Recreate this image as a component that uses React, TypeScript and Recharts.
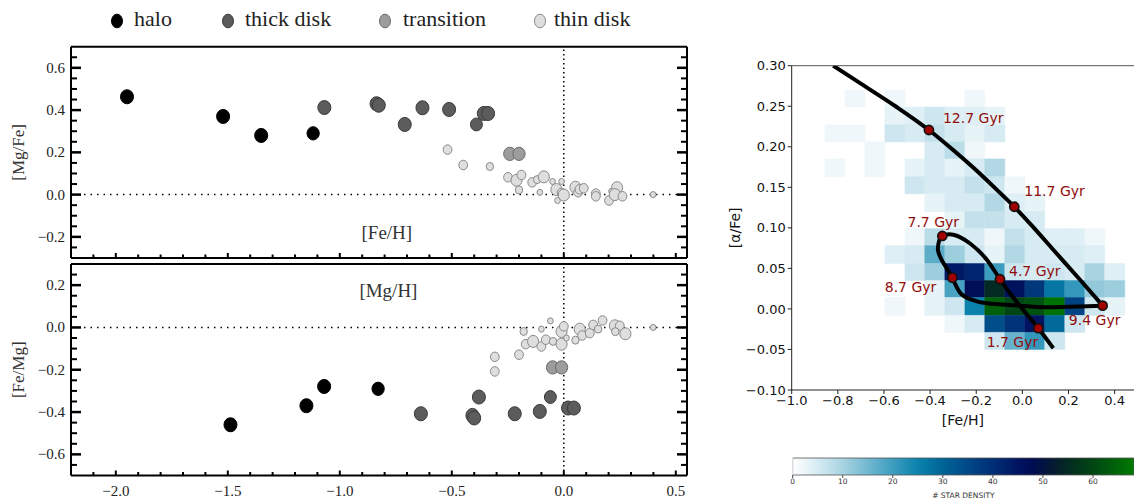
import React from "react"
import {
  ScatterChart,
  ComposedChart,
  BarChart,
  Bar,
  Scatter,
  Line,
  XAxis,
  YAxis,
  ZAxis,
  ReferenceLine,
  ReferenceArea,
  ReferenceDot,
} from "recharts"

type Star = { x: number; y: number; w: number }

// ---------- left: [Mg/Fe] vs [Fe/H] ----------
const haloFe: Star[] = [
  { x: -1.95, y: 0.463, w: 4 },
  { x: -1.521, y: 0.37, w: 4 },
  { x: -1.351, y: 0.28, w: 4 },
  { x: -1.119, y: 0.29, w: 3.6 },
]
const thickFe: Star[] = [
  { x: -1.069, y: 0.412, w: 4 },
  { x: -0.836, y: 0.43, w: 4 },
  { x: -0.826, y: 0.423, w: 4 },
  { x: -0.71, y: 0.332, w: 4 },
  { x: -0.631, y: 0.411, w: 4 },
  { x: -0.512, y: 0.403, w: 4 },
  { x: -0.39, y: 0.332, w: 3.4 },
  { x: -0.357, y: 0.384, w: 4 },
  { x: -0.338, y: 0.384, w: 4 },
]
const transFe: Star[] = [
  { x: -0.241, y: 0.193, w: 3.6 },
  { x: -0.2, y: 0.193, w: 3.6 },
]
const thinFe: Star[] = [
  { x: -0.519, y: 0.213, w: 2 },
  { x: -0.449, y: 0.14, w: 2 },
  { x: -0.33, y: 0.133, w: 1.5 },
  { x: -0.249, y: 0.082, w: 2 },
  { x: -0.211, y: 0.068, w: 3 },
  { x: -0.189, y: 0.093, w: 2 },
  { x: -0.2, y: 0.022, w: 1.5 },
  { x: -0.141, y: 0.058, w: 2 },
  { x: -0.119, y: 0.071, w: 1.5 },
  { x: -0.089, y: 0.084, w: 3 },
  { x: -0.107, y: 0.011, w: 1 },
  { x: -0.05, y: 0.062, w: 1 },
  { x: -0.01, y: 0.062, w: 1 },
  { x: -0.033, y: 0.024, w: 3 },
  { x: -0.028, y: -0.028, w: 1 },
  { x: -0.01, y: 0.008, w: 2 },
  { x: 0.0, y: -0.002, w: 3 },
  { x: 0.052, y: 0.035, w: 3 },
  { x: 0.064, y: 0.011, w: 2 },
  { x: 0.07, y: 0.025, w: 2 },
  { x: 0.089, y: 0.03, w: 2 },
  { x: 0.143, y: 0.005, w: 2 },
  { x: 0.143, y: -0.008, w: 2 },
  { x: 0.202, y: -0.028, w: 2 },
  { x: 0.213, y: 0.016, w: 1 },
  { x: 0.238, y: 0.033, w: 3 },
  { x: 0.228, y: 0.0, w: 3 },
  { x: 0.262, y: -0.008, w: 2 },
  { x: 0.399, y: 0.0, w: 1 },
]

// ---------- left: [Fe/Mg] vs [Mg/H] ----------
const haloMg: Star[] = [
  { x: -1.488, y: -0.46, w: 4 },
  { x: -1.149, y: -0.37, w: 4 },
  { x: -1.07, y: -0.279, w: 4 },
  { x: -0.829, y: -0.29, w: 3.6 },
]
const thickMg: Star[] = [
  { x: -0.638, y: -0.408, w: 4 },
  { x: -0.408, y: -0.416, w: 4 },
  { x: -0.4, y: -0.428, w: 4 },
  { x: -0.379, y: -0.329, w: 4 },
  { x: -0.219, y: -0.408, w: 4 },
  { x: -0.107, y: -0.397, w: 4 },
  { x: -0.06, y: -0.329, w: 3.4 },
  { x: 0.019, y: -0.381, w: 4 },
  { x: 0.045, y: -0.381, w: 4 },
]
const transMg: Star[] = [
  { x: -0.05, y: -0.189, w: 3.6 },
  { x: -0.01, y: -0.189, w: 3.6 },
]
const thinMg: Star[] = [
  { x: -0.308, y: -0.139, w: 2 },
  { x: -0.308, y: -0.208, w: 2 },
  { x: -0.2, y: -0.129, w: 2 },
  { x: -0.179, y: -0.019, w: 1.5 },
  { x: -0.17, y: -0.079, w: 2 },
  { x: -0.137, y: -0.066, w: 3 },
  { x: -0.1, y: -0.008, w: 1 },
  { x: -0.1, y: -0.09, w: 2 },
  { x: -0.08, y: -0.058, w: 2 },
  { x: -0.06, y: 0.031, w: 1 },
  { x: -0.048, y: -0.066, w: 1.5 },
  { x: -0.01, y: -0.079, w: 3 },
  { x: -0.01, y: -0.019, w: 3 },
  { x: 0.0, y: 0.005, w: 2 },
  { x: 0.012, y: -0.05, w: 1 },
  { x: 0.052, y: -0.06, w: 1.5 },
  { x: 0.071, y: -0.008, w: 3 },
  { x: 0.082, y: -0.038, w: 2 },
  { x: 0.116, y: -0.027, w: 2 },
  { x: 0.131, y: 0.012, w: 2 },
  { x: 0.153, y: -0.008, w: 1.5 },
  { x: 0.173, y: 0.033, w: 2 },
  { x: 0.228, y: 0.008, w: 3 },
  { x: 0.25, y: 0.008, w: 2 },
  { x: 0.23, y: -0.02, w: 1.5 },
  { x: 0.275, y: -0.03, w: 3 },
  { x: 0.399, y: 0.0, w: 1 },
]

const X_TICKS = [
  -2.1, -2.0, -1.9, -1.8, -1.7, -1.6, -1.5, -1.4, -1.3, -1.2, -1.1, -1.0, -0.9, -0.8,
  -0.7, -0.6, -0.5, -0.4, -0.3, -0.2, -0.1, 0.0, 0.1, 0.2, 0.3, 0.4, 0.5,
]
const X_LABELS = [-2.0, -1.5, -1.0, -0.5, 0.0, 0.5]
const Y_TICKS_TOP = [
  -0.25, -0.2, -0.15, -0.1, -0.05, 0.0, 0.05, 0.1, 0.15, 0.2, 0.25, 0.3, 0.35, 0.4,
  0.45, 0.5, 0.55, 0.6, 0.65,
]
const Y_LABELS_TOP = [-0.2, 0.0, 0.2, 0.4, 0.6]
const Y_TICKS_BOT = [
  -0.65, -0.6, -0.55, -0.5, -0.45, -0.4, -0.35, -0.3, -0.25, -0.2, -0.15, -0.1, -0.05,
  0.0, 0.05, 0.1, 0.15, 0.2, 0.25,
]
const Y_LABELS_BOT = [-0.6, -0.4, -0.2, 0.0, 0.2]

// ---------- right: [alpha/Fe] vs [Fe/H] density + track ----------
const HEAT_X = [
  -0.856, -0.769, -0.683, -0.596, -0.509, -0.423, -0.336, -0.249, -0.163, -0.076, 0.011,
  0.097, 0.184, 0.271, 0.357, 0.444,
]
const HEAT_Y = [
  0.27, 0.249, 0.227, 0.206, 0.185, 0.163, 0.142, 0.12, 0.099, 0.078, 0.056, 0.035, 0.014,
  -0.008, -0.029, -0.05,
]
const HEAT_COUNTS = [
  [0, 2, 0, 2, 0, 0, 0, 2, 0, 0, 0, 0, 0, 0, 0],
  [0, 0, 0, 3, 4, 6, 4, 4, 3, 0, 0, 0, 0, 0, 0],
  [2, 2, 0, 6, 5, 7, 5, 3, 5, 0, 0, 0, 0, 0, 0],
  [0, 0, 2, 0, 0, 5, 8, 2, 0, 0, 0, 0, 0, 0, 0],
  [2, 0, 2, 0, 3, 5, 3, 5, 9, 0, 0, 0, 0, 0, 0],
  [0, 0, 0, 0, 6, 5, 5, 7, 6, 2, 0, 0, 0, 0, 0],
  [0, 0, 0, 0, 0, 3, 5, 5, 9, 4, 3, 0, 0, 0, 0],
  [0, 0, 0, 0, 0, 0, 3, 7, 7, 5, 5, 0, 0, 0, 0],
  [0, 0, 0, 0, 2, 8, 5, 5, 2, 7, 5, 4, 4, 2, 0],
  [0, 0, 0, 4, 5, 17, 11, 6, 3, 9, 5, 5, 5, 4, 0],
  [0, 0, 0, 0, 6, 11, 44, 42, 20, 6, 5, 6, 5, 10, 4],
  [0, 0, 0, 0, 0, 3, 19, 47, 55, 46, 38, 27, 21, 12, 11],
  [0, 0, 0, 2, 0, 3, 6, 25, 64, 60, 62, 67, 36, 6, 3],
  [0, 0, 0, 0, 0, 0, 2, 5, 34, 39, 45, 29, 6, 0, 0],
  [0, 0, 0, 0, 0, 0, 0, 0, 6, 16, 21, 6, 0, 0, 0],
]

const TRACK_EARLY = [
  { x: -0.82, y: 0.3 },
  { x: -0.69, y: 0.276 },
  { x: -0.55, y: 0.25 },
  { x: -0.405, y: 0.2207 },
  { x: -0.3, y: 0.196 },
  { x: -0.2, y: 0.171 },
  { x: -0.1, y: 0.144 },
  { x: -0.035, y: 0.126 },
  { x: 0.05, y: 0.1 },
  { x: 0.134, y: 0.073 },
  { x: 0.25, y: 0.036 },
  { x: 0.348, y: 0.004 },
]
const TRACK_LATE = [
  { x: 0.348, y: 0.004 },
  { x: 0.25, y: 0.003 },
  { x: 0.1, y: 0.002 },
  { x: -0.01, y: 0.004 },
  { x: -0.155, y: 0.007 },
  { x: -0.227, y: 0.012 },
  { x: -0.27, y: 0.02 },
  { x: -0.305, y: 0.0386 },
  { x: -0.345, y: 0.058 },
  { x: -0.366, y: 0.073 },
  { x: -0.36, y: 0.085 },
  { x: -0.347, y: 0.09 },
  { x: -0.3, y: 0.0915 },
  { x: -0.228, y: 0.081 },
  { x: -0.155, y: 0.061 },
  { x: -0.097, y: 0.0366 },
  { x: -0.02, y: 0.007 },
  { x: 0.069, y: -0.0238 },
  { x: 0.134, y: -0.0485 },
]
const AGES = [
  { label: "12.7 Gyr", x: -0.405, y: 0.2207 },
  { label: "11.7 Gyr", x: -0.035, y: 0.126 },
  { label: "9.4 Gyr", x: 0.348, y: 0.004 },
  { label: "8.7 Gyr", x: -0.3035, y: 0.0386 },
  { label: "7.7 Gyr", x: -0.347, y: 0.09 },
  { label: "4.7 Gyr", x: -0.097, y: 0.0366 },
  { label: "1.7 Gyr", x: 0.069, y: -0.0238 },
]
const FEH_TICKS = [-1.0, -0.8, -0.6, -0.4, -0.2, 0.0, 0.2, 0.4]
const ALPHA_TICKS = [-0.1, -0.05, 0.0, 0.05, 0.1, 0.15, 0.2, 0.25, 0.3]

// colour bar
const CBAR_MAX = 68.2
const CBAR_RANGE = [{ name: "density", top: CBAR_MAX }]
const CBAR_TICKS = [0, 10, 20, 30, 40, 50, 60]
const CMAP: [number, string][] = [
  [0, "#ffffff"],
  [5, "#d6ebf2"],
  [10, "#a8d3e1"],
  [15, "#72b8d0"],
  [20, "#3d9dbf"],
  [25, "#0a82ac"],
  [30, "#006497"],
  [35, "#004886"],
  [40, "#002e74"],
  [45, "#001462"],
  [48, "#000c52"],
  [52, "#061a32"],
  [56, "#03301e"],
  [61, "#004c12"],
  [68.2, "#007a00"],
]

// label offsets around the age markers (px)
const AGE_LABEL_POS: Record<string, [number, number, "start" | "middle" | "end"]> = {
  "12.7 Gyr": [14, -12, "start"],
  "11.7 Gyr": [10, -16, "start"],
  "7.7 Gyr": [-9, -14, "middle"],
  "8.7 Gyr": [-16, 9, "end"],
  "4.7 Gyr": [9, -8, "start"],
  "9.4 Gyr": [-8, 14, "middle"],
  "1.7 Gyr": [0, 14, "end"],
}

const POP = {
  halo: { name: "halo", fill: "#000000", stroke: "#000000" },
  thick: { name: "thick disk", fill: "#5c5c5c", stroke: "#3a3a3a" },
  trans: { name: "transition", fill: "#9c9c9c", stroke: "#6a6a6a" },
  thin: { name: "thin disk", fill: "#dedede", stroke: "#8a8a8a" },
}

const serif = "'Liberation Serif', 'DejaVu Serif', serif"
const sans = "'DejaVu Sans', sans-serif"

const fmt1 = (v: number) => (v < -1e-9 ? "\u2212" : "") + Math.abs(v).toFixed(1)
const fmt2 = (v: number) => (v < -1e-9 ? "\u2212" : "") + Math.abs(v).toFixed(2)
const onList = (v: number, list: number[]) => list.some((t) => Math.abs(t - v) < 1e-6)

const hexRgb = (h: string) => [1, 3, 5].map((i) => parseInt(h.slice(i, i + 2), 16))
const densityColor = (v: number) => {
  for (let i = 1; i < CMAP.length; i++) {
    const [v0, c0] = CMAP[i - 1]
    const [v1, c1] = CMAP[i]
    if (v <= v1) {
      const t = (v - v0) / (v1 - v0)
      const a = hexRgb(c0)
      const b = hexRgb(c1)
      return `rgb(${a.map((x, k) => Math.round(x + (b[k] - x) * t)).join(",")})`
    }
  }
  return CMAP[CMAP.length - 1][1]
}

const starShape = (fill: string, stroke: string) => (p: any) => {
  const r = p.width ? p.width / 2 : Math.sqrt((p.size ?? 64) / Math.PI)
  return (
    <ellipse cx={p.cx} cy={p.cy} rx={r} ry={r * 1.08} fill={fill} stroke={stroke} strokeWidth={1} />
  )
}

const xTick = (side: "top" | "bottom", withLabels: boolean) => (p: any) => {
  const v = p.payload.value
  const major = onList(v, X_LABELS)
  const dir = side === "bottom" ? -1 : 1
  return (
    <g>
      <line x1={p.x} y1={p.y} x2={p.x} y2={p.y + dir * (major ? 5 : 3.5)} stroke="#000" strokeWidth={2} />
      {withLabels && major && (
        <text x={p.x} y={p.y + 15} textAnchor="middle" dominantBaseline="central" fontFamily={serif} fontSize={15} fill="#222">
          {fmt1(v)}
        </text>
      )}
    </g>
  )
}

const yTick = (side: "left" | "right", labels: number[]) => (p: any) => {
  const v = p.payload.value
  const major = onList(v, labels)
  const dir = side === "left" ? 1 : -1
  return (
    <g>
      <line x1={p.x} y1={p.y} x2={p.x + dir * (major ? 10 : 6)} y2={p.y} stroke="#000" strokeWidth={major ? 2.5 : 2} />
      {side === "left" && major && (
        <text x={p.x - 6} y={p.y} textAnchor="end" dominantBaseline="central" fontFamily={serif} fontSize={15} fill="#222">
          {fmt1(v)}
        </text>
      )}
    </g>
  )
}

type PanelProps = {
  top: number
  height: number
  margin: { top: number; right: number; bottom: number; left: number }
  yDomain: [number, number]
  yTicks: number[]
  yLabels: number[]
  showX: boolean
  yTitle: string
  inner: { text: string; x: number; y: number }
  halo: Star[]
  thick: Star[]
  trans: Star[]
  thin: Star[]
}

const frame = { stroke: "#000", strokeWidth: 2 }

function AbundancePanel(props: PanelProps) {
  const { top, height, margin, yDomain, yTicks, yLabels, showX, yTitle, inner } = props
  const sets: [Star[], { fill: string; stroke: string }][] = [
    [props.thin, POP.thin],
    [props.trans, POP.trans],
    [props.thick, POP.thick],
    [props.halo, POP.halo],
  ]
  return (
    <div style={{ position: "absolute", left: 0, top, width: 700, height }}>
      <ScatterChart width={700} height={height} margin={margin}>
        <XAxis
          xAxisId="b"
          type="number"
          dataKey="x"
          domain={[-2.2, 0.55]}
          allowDataOverflow
          ticks={X_TICKS}
          interval={0}
          tickSize={0}
          tickMargin={0}
          tickLine={false}
          axisLine={frame}
          height={showX ? 24 : 1}
          tick={xTick("bottom", showX)}
        />
        <XAxis
          xAxisId="t"
          orientation="top"
          type="number"
          domain={[-2.2, 0.55]}
          allowDataOverflow
          ticks={X_TICKS}
          interval={0}
          tickSize={0}
          tickMargin={0}
          tickLine={false}
          axisLine={frame}
          height={1}
          tick={xTick("top", false)}
        />
        <YAxis
          yAxisId="l"
          type="number"
          dataKey="y"
          domain={yDomain}
          allowDataOverflow
          ticks={yTicks}
          interval={0}
          tickSize={0}
          tickMargin={0}
          tickLine={false}
          axisLine={frame}
          width={71}
          tick={yTick("left", yLabels)}
          label={{
            value: yTitle,
            angle: -90,
            position: "insideLeft",
            offset: 18,
            style: { textAnchor: "middle", fontFamily: serif, fontSize: 17, fill: "#333" },
          }}
        />
        <YAxis
          yAxisId="r"
          orientation="right"
          type="number"
          domain={yDomain}
          allowDataOverflow
          ticks={yTicks}
          interval={0}
          tickSize={0}
          tickMargin={0}
          tickLine={false}
          axisLine={frame}
          width={1}
          tick={yTick("right", yLabels)}
        />
        <ZAxis dataKey="w" type="number" domain={[1, 4]} range={[25, 133]} />
        <ReferenceLine xAxisId="b" yAxisId="l" y={0} stroke="#000" strokeWidth={1.5} strokeDasharray="1.5 5" />
        <ReferenceLine xAxisId="b" yAxisId="l" x={0} stroke="#000" strokeWidth={1.5} strokeDasharray="1.5 3" />
        <ReferenceDot
          xAxisId="b"
          yAxisId="l"
          x={inner.x}
          y={inner.y}
          r={1}
          fill="none"
          stroke="none"
          label={{ value: inner.text, position: "center", fontFamily: serif, fontSize: 19, fill: "#333" }}
        />
        {sets.map(([data, st], i) => (
          <Scatter
            key={i}
            xAxisId="b"
            yAxisId="l"
            data={data}
            shape={starShape(st.fill, st.stroke)}
            isAnimationActive={false}
          />
        ))}
      </ScatterChart>
    </div>
  )
}

const ageShape = (p: any) => {
  const [dx, dy, anchor] = AGE_LABEL_POS[p.payload.label] ?? [8, -8, "start"]
  return (
    <g>
      <circle cx={p.cx} cy={p.cy} r={4.6} fill="#a00000" stroke="#111" strokeWidth={1.6} />
      <text
        x={p.cx + dx}
        y={p.cy + dy}
        textAnchor={anchor}
        dominantBaseline="central"
        fontFamily={sans}
        fontSize={14}
        fill="#920c0c"
      >
        {p.payload.label}
      </text>
    </g>
  )
}

function DensityPanel() {
  const cells: { x1: number; x2: number; y1: number; y2: number; v: number }[] = []
  HEAT_COUNTS.forEach((row, r) =>
    row.forEach((v, c) => {
      if (v > 0) cells.push({ x1: HEAT_X[c], x2: HEAT_X[c + 1], y1: HEAT_Y[r + 1], y2: HEAT_Y[r], v })
    })
  )
  return (
    <div style={{ position: "absolute", left: 690, top: 40, width: 444, height: 400 }}>
      <ComposedChart width={444} height={400} margin={{ top: 25.7, right: 0, bottom: 10, left: 0 }}>
        <XAxis
          type="number"
          dataKey="x"
          domain={[-1, 0.484]}
          allowDataOverflow
          ticks={FEH_TICKS}
          interval={0}
          tickFormatter={fmt1}
          tickSize={4}
          tickMargin={2}
          height={40}
          axisLine={{ stroke: "#222" }}
          tickLine={{ stroke: "#222" }}
          tick={{ fontFamily: sans, fontSize: 13, fill: "#111" }}
          label={{ value: "[Fe/H]", position: "insideBottom", offset: 5, fontFamily: sans, fontSize: 14, fill: "#111" }}
        />
        <YAxis
          type="number"
          dataKey="y"
          domain={[-0.1, 0.3]}
          allowDataOverflow
          ticks={ALPHA_TICKS}
          interval={0}
          tickFormatter={fmt2}
          tickSize={4}
          tickMargin={2}
          width={101.7}
          axisLine={{ stroke: "#222" }}
          tickLine={{ stroke: "#222" }}
          tick={{ fontFamily: sans, fontSize: 13, fill: "#111" }}
          label={{
            value: "[\u03b1/Fe]",
            angle: -90,
            position: "insideLeft",
            offset: 45,
            style: { textAnchor: "middle", fontFamily: sans, fontSize: 14, fill: "#111" },
          }}
        />
        {cells.map((c, i) => (
          <ReferenceArea
            key={i}
            x1={c.x1}
            x2={c.x2}
            y1={c.y1}
            y2={c.y2}
            fill={densityColor(c.v)}
            fillOpacity={1}
            stroke={densityColor(c.v)}
            strokeWidth={0.5}
          />
        ))}
        <ReferenceLine y={0.3} stroke="#555" strokeWidth={1} />
        <Line data={TRACK_EARLY} dataKey="y" type="monotoneX" stroke="#000" strokeWidth={4} dot={false} activeDot={false} isAnimationActive={false} />
        <Line data={TRACK_LATE} dataKey="y" type="natural" stroke="#000" strokeWidth={4} dot={false} activeDot={false} isAnimationActive={false} />
        <Scatter data={AGES} dataKey="y" shape={ageShape} isAnimationActive={false} />
      </ComposedChart>
    </div>
  )
}

const gradientBar = (p: any) => (
  <g>
    <defs>
      <linearGradient id="cbar" x1="0" x2="1" y1="0" y2="0">
        {CMAP.map(([v, c]) => (
          <stop key={v} offset={v / CBAR_MAX} stopColor={c} />
        ))}
      </linearGradient>
    </defs>
    <rect x={p.x} y={p.y} width={p.width} height={p.height} fill="url(#cbar)" stroke="#555" strokeWidth={0.8} />
  </g>
)

function ColorBar() {
  return (
    <div style={{ position: "absolute", left: 780, top: 450, width: 354, height: 51 }}>
      <BarChart
        width={354}
        height={51}
        layout="vertical"
        data={CBAR_RANGE}
        barCategoryGap={0}
        margin={{ top: 8, right: 0, bottom: 0, left: 12.7 }}
      >
        <XAxis
          type="number"
          domain={[0, CBAR_MAX]}
          allowDataOverflow
          ticks={CBAR_TICKS}
          interval={0}
          tickSize={3}
          tickMargin={1}
          height={26}
          axisLine={false}
          tickLine={{ stroke: "#444" }}
          tick={{ fontFamily: sans, fontSize: 7.5, fill: "#333" }}
          label={{ value: "# STAR DENSITY", position: "insideBottom", offset: 3, fontFamily: sans, fontSize: 7.5, fill: "#333" }}
        />
        <YAxis type="category" dataKey="name" hide />
        <Bar dataKey="top" shape={gradientBar} isAnimationActive={false} />
      </BarChart>
    </div>
  )
}

const LEGEND_POS = [
  { key: "halo", dot: 117, text: 134 },
  { key: "thick", dot: 228, text: 245 },
  { key: "trans", dot: 385, text: 403 },
  { key: "thin", dot: 540, text: 554 },
] as const

function TopLegend() {
  return (
    <svg style={{ position: "absolute", left: 0, top: 0 }} width={700} height={44}>
      {LEGEND_POS.map((l) => {
        const st = POP[l.key]
        return (
          <g key={l.key}>
            <ellipse cx={l.dot} cy={21} rx={5.5} ry={6.8} fill={st.fill} stroke={st.stroke} strokeWidth={1} />
            <text x={l.text} y={26} fontFamily={serif} fontSize={22} fill="#222">
              {st.name}
            </text>
          </g>
        )
      })}
    </svg>
  )
}

export default function App() {
  return (
    <div
      style={{
        position: "absolute",
        left: 0,
        top: 0,
        width: 1134,
        height: 501,
        background: "#fff",
        overflow: "hidden",
      }}
    >
      <TopLegend />
      <AbundancePanel
        top={0}
        height={262}
        margin={{ top: 45.7, right: 12, bottom: 3, left: 0 }}
        yDomain={[-0.3, 0.7]}
        yTicks={Y_TICKS_TOP}
        yLabels={Y_LABELS_TOP}
        showX={false}
        yTitle="[Mg/Fe]"
        inner={{ text: "[Fe/H]", x: -0.79, y: -0.18 }}
        halo={haloFe}
        thick={thickFe}
        trans={transFe}
        thin={thinFe}
      />
      <AbundancePanel
        top={262}
        height={239}
        margin={{ top: 1, right: 12, bottom: 1.5, left: 0 }}
        yDomain={[-0.7, 0.3]}
        yTicks={Y_TICKS_BOT}
        yLabels={Y_LABELS_BOT}
        showX={true}
        yTitle="[Fe/Mg]"
        inner={{ text: "[Mg/H]", x: -0.783, y: 0.174 }}
        halo={haloMg}
        thick={thickMg}
        trans={transMg}
        thin={thinMg}
      />
      <DensityPanel />
      <ColorBar />
    </div>
  )
}
